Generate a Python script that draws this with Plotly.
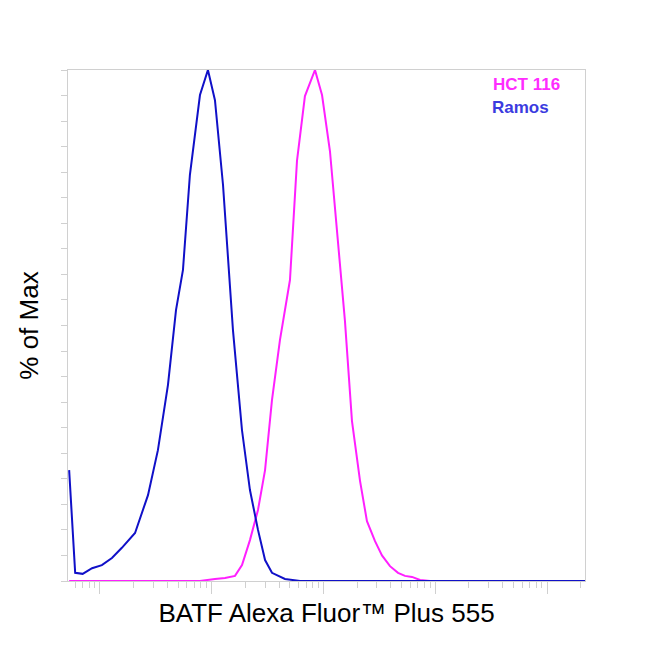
import plotly.graph_objects as go

# fluorescence intensity (log scale) and % of max
ramos_x = [53, 60, 70, 85, 104, 128, 157, 206, 269, 330, 406, 479, 553, 638, 785, 925,
           1069, 1262, 1549, 1866, 2198, 2594, 3000, 3460, 4520, 6166, 9310, 2190000]
ramos_y = [21.7, 1.6, 1.4, 2.5, 3.1, 4.5, 6.5, 9.4, 16.8, 25.6, 38.4, 53, 60.9, 79.5, 95.1, 100,
           94.1, 77.5, 49.1, 29.5, 17.8, 10, 4.1, 1.6, 0.4, 0, 0, 0]
hct_x = [53, 785, 1069, 1315, 1615, 1866, 2198, 2594, 3000, 3460, 4080, 5012, 5794, 6823, 8395,
         9705, 11430, 13490, 15560, 17990, 21230, 24490, 28910, 33370, 39360, 46450, 53580,
         61940, 73110, 89740, 2190000]
hct_y = [0, 0, 0.4, 0.6, 1, 3.1, 8, 13.9, 21.7, 35.4, 47.2, 58.9, 82.2, 94.9, 100,
         95.1, 84.1, 66.5, 50.9, 31.3, 19.6, 11.7, 7.8, 5, 2.9, 1.6, 1, 0.8, 0.2, 0, 0]

decades = [100, 1000, 10000, 100000, 1000000]
minors = [m * 10 ** p for p in range(1, 7) for m in range(2, 10)]

fig = go.Figure()
fig.add_trace(go.Scatter(x=hct_x, y=hct_y, mode="lines", line=dict(color="#ff1fff", width=2)))
fig.add_trace(go.Scatter(x=ramos_x, y=ramos_y, mode="lines", line=dict(color="#1010c8", width=2)))

fig.add_annotation(x=0.955, y=0.995, xref="paper", yref="paper", xanchor="right", yanchor="top",
                   text="<b>HCT 116</b>", showarrow=False, font=dict(color="#ff2cff", size=17, family="Arial"))
fig.add_annotation(x=0.935, y=0.95, xref="paper", yref="paper", xanchor="right", yanchor="top",
                   text="<b>Ramos</b>", showarrow=False, font=dict(color="#3b3bdf", size=17, family="Arial"))

fig.update_layout(
    width=650, height=650, showlegend=False,
    paper_bgcolor="white", plot_bgcolor="white",
    margin=dict(l=60, r=73, t=62, b=77),
    font=dict(family="Arial", color="black"),
)
fig.update_xaxes(
    type="log", range=[1.714, 6.34], showgrid=False, zeroline=False,
    showline=True, linecolor="#d0d0d0", mirror=True,
    tickmode="array", tickvals=decades, ticktext=[""] * 5,
    ticks="outside", ticklen=12, tickcolor="#d0d0d0",
    minor=dict(tickvals=minors, ticks="outside", ticklen=6, tickcolor="#d0d0d0"),
    title=dict(text="BATF Alexa Fluor™ Plus 555", font=dict(size=26), standoff=8),
)
fig.update_yaxes(
    range=[0, 100], showgrid=False, zeroline=False,
    showline=True, linecolor="#d0d0d0", mirror=True,
    tickmode="linear", dtick=5, showticklabels=False,
    ticks="outside", ticklen=6, tickcolor="#d0d0d0",
    title=dict(text="% of Max", font=dict(size=26), standoff=14),
)
fig.write_html("out.html")
